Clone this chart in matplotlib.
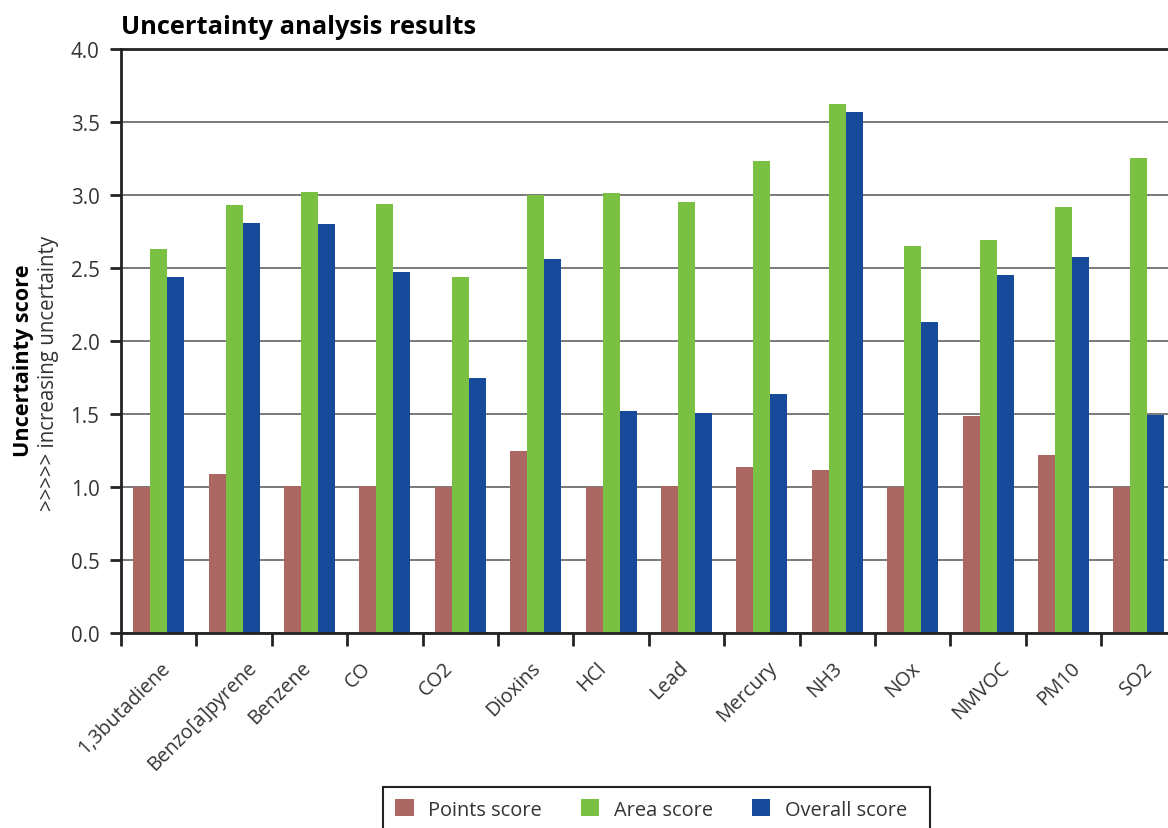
import matplotlib
matplotlib.use("Agg")
import matplotlib.pyplot as plt
import matplotlib.transforms as mtransforms
from matplotlib.patches import Patch, Rectangle
import numpy as np

categories = ["1,3butadiene", "Benzo[a]pyrene", "Benzene", "CO", "CO2", "Dioxins",
              "HCl", "Lead", "Mercury", "NH3", "NOx", "NMVOC", "PM10", "SO2"]
points_score = [1.00, 1.09, 1.01, 1.005, 1.00, 1.245, 1.00, 1.005, 1.14, 1.115, 1.00, 1.485, 1.22, 1.00]
area_score = [2.63, 2.93, 3.02, 2.935, 2.435, 3.00, 3.015, 2.955, 3.23, 3.62, 2.65, 2.695, 2.92, 3.255]
overall_score = [2.435, 2.81, 2.80, 2.47, 1.75, 2.56, 1.52, 1.505, 1.64, 3.57, 2.13, 2.455, 2.575, 1.495]
series_names = ["Points score", "Area score", "Overall score"]
yticks = [0.0, 0.5, 1.0, 1.5, 2.0, 2.5, 3.0, 3.5, 4.0]

colors = ["#AB6862", "#7AC143", "#184A9B"]
text_color = "#333333"
font = "Open Sans"
plt.rcParams["font.family"] = [font, "DejaVu Sans"]

W, H = 1168, 829
fig = plt.figure(figsize=(W / 100, H / 100), dpi=100)

def px(x, y):
    return x / W, 1 - y / H

left, right, top, bottom = 121, 1176.6, 50, 634
ax = fig.add_axes([left / W, 1 - bottom / H, (right - left) / W, (bottom - top) / H])

x = np.arange(len(categories))
bw = 0.2255
for k, vals in enumerate([points_score, area_score, overall_score]):
    ax.bar(x + (k - 1) * bw, vals, width=bw, color=colors[k], linewidth=0, zorder=2)

ax.set_xlim(-0.5, len(categories) - 0.5)
ax.set_ylim(0, 4.0)
ax.set_yticks(yticks)
ax.set_yticklabels([f"{v:.1f}" for v in yticks])
ax.yaxis.grid(True, color="#6e6e6e", linewidth=1.3, zorder=0)
ax.set_axisbelow(True)

for s in ["left", "bottom", "top"]:
    ax.spines[s].set_color("#222222")
    ax.spines[s].set_linewidth(2.0)
ax.spines["right"].set_visible(False)

ax.tick_params(axis="y", direction="out", length=8, width=2, color="#222222",
               labelsize=14.8, labelcolor=text_color, pad=7.5)

# boundary ticks (major) and category labels (minor)
ax.set_xticks(np.arange(len(categories) + 1) - 0.5)
ax.set_xticklabels([])
ax.tick_params(axis="x", which="major", direction="out", length=9, width=2, color="#222222")
ax.set_xticks(x, minor=True)
ax.set_xticklabels(categories, minor=True, rotation=45, ha="center", va="top",
                   fontsize=14.2, color=text_color)
ax.tick_params(axis="x", which="minor", length=0, pad=17.5)
for i, lab in enumerate(ax.get_xticklabels(minor=True)):
    shift = (-34.5 + 2.5 * i) / 100
    lab.set_transform(lab.get_transform() +
                      mtransforms.ScaledTranslation(shift, 0, fig.dpi_scale_trans))

# title
fig.text(*px(121, 34), "Uncertainty analysis results", fontsize=18.3, fontweight="bold",
         color="black", ha="left", va="baseline")

# y-axis label (two lines)
fig.text(*px(29.5, 361), "Uncertainty score", rotation=90, rotation_mode="anchor",
         ha="center", va="baseline", fontsize=15.6, fontweight="bold", color="black")
fig.text(*px(54.5, 373), ">>>>> increasing uncertainty", rotation=90, rotation_mode="anchor",
         ha="center", va="baseline", fontsize=14.8, color=text_color)

# legend (frame drawn separately to match the reference box)
handles = [Patch(facecolor=c, edgecolor="none") for c in colors]
leg = fig.legend(handles, series_names, loc="upper left", bbox_to_anchor=px(383, 788),
                 ncol=3, frameon=False, fontsize=14.4,
                 handlelength=0.92, handleheight=0.92, handletextpad=0.72,
                 columnspacing=1.95, borderpad=0.62, borderaxespad=0)
for t in leg.get_texts():
    t.set_color(text_color)
fx0, fy0 = px(383, 850)
fx1, fy1 = px(930, 788)
fig.add_artist(Rectangle((fx0, fy0), fx1 - fx0, fy1 - fy0, transform=fig.transFigure,
                         fill=False, edgecolor="#222222", linewidth=1.5, clip_on=False))

fig.savefig("out.png", dpi=100)
